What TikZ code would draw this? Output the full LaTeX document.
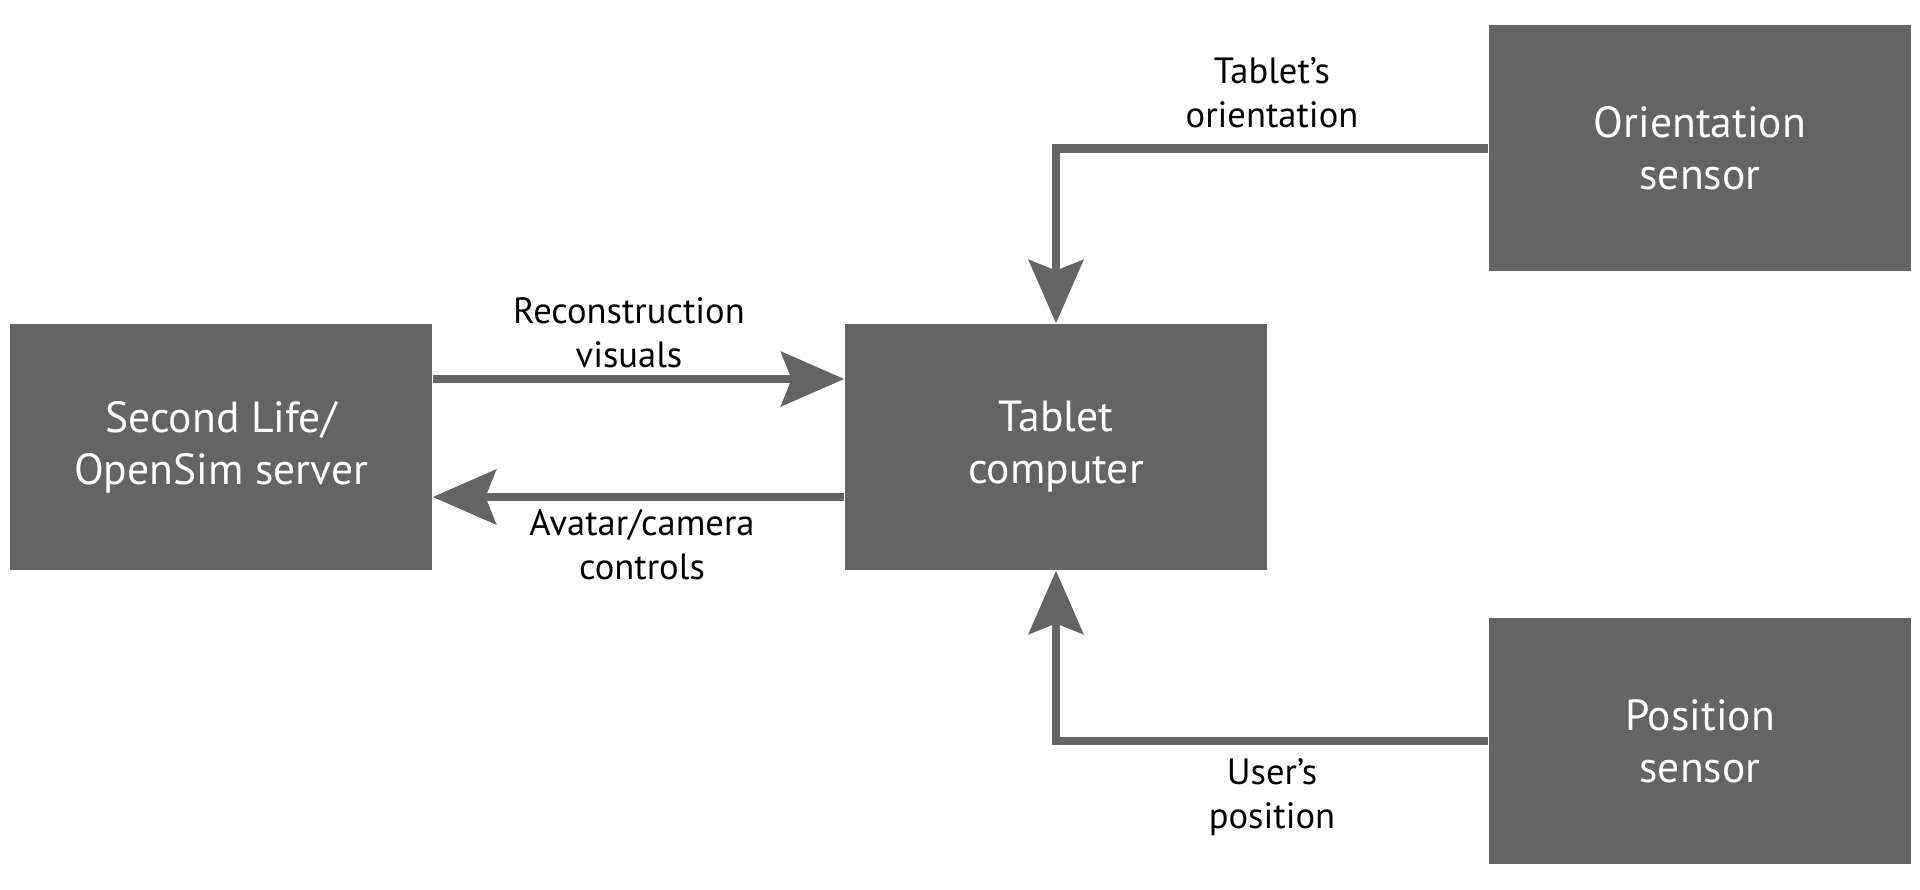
\documentclass[tikz,border=0pt]{standalone}
\usepackage{fontspec}
\setmainfont{PT Sans}
\usetikzlibrary{arrows.meta,positioning}
\definecolor{boxgray}{HTML}{646464}
\tikzset{
  block/.style={fill=boxgray, text=white, minimum width=4.22cm, minimum height=2.46cm,
    align=center, inner sep=0pt, font=\fontsize{12.4}{14.8}\selectfont},
  lbl/.style={align=center, inner sep=0pt, font=\fontsize{10.4}{12.5}\selectfont},
  flow/.style={draw=boxgray, line width=2.3pt,
    -{Stealth[length=18pt, width=15.5pt, inset=3pt]}}
}
\begin{document}
\begin{tikzpicture}
  \useasboundingbox (0,0) rectangle (19.2,8.89);
  \node[block] (server) at (2.21,4.42) {Second Life/\\OpenSim server};
  \node[block] (tablet) at (10.56,4.42) {Tablet\\computer};
  \node[block] (orient) at (17.00,7.405) {Orientation\\sensor};
  \node[block] (pos) at (17.00,1.48) {Position\\sensor};
  % data flow between server and tablet
  \draw[flow] ([yshift=0.68cm]server.east) -- ([yshift=0.68cm]tablet.west);
  \draw[flow] ([yshift=-0.50cm]tablet.west) -- ([yshift=-0.50cm]server.east);
  \draw[flow] (orient.west) -| (tablet.north);
  \draw[flow] (pos.west) -| (tablet.south);
  \node[lbl] (recon) at (6.29,5.56) {Reconstruction\\visuals};
  \node[lbl] (avatar) at (6.42,3.44) {Avatar/camera\\controls};
  \node[lbl] (tabori) at (12.72,7.96) {Tablet’s\\orientation};
  \node[lbl] (userpos) at (12.72,0.92) {User’s\\position};
\end{tikzpicture}
\end{document}
